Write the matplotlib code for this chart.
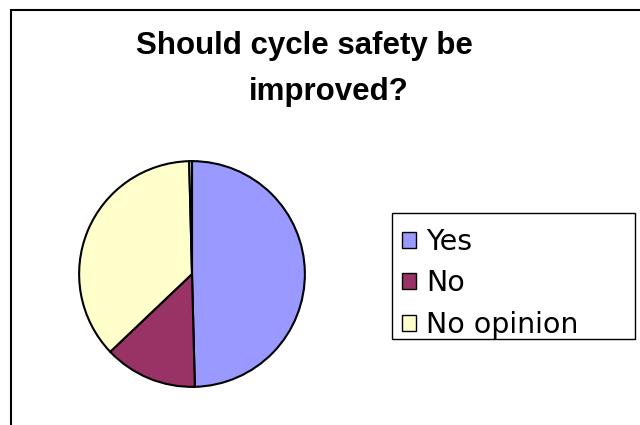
import matplotlib
matplotlib.use('Agg')
import matplotlib.pyplot as plt
from matplotlib.patches import Rectangle, Patch

# ================================================================
# Data (percent of answers)
# ================================================================
labels = ['Yes', 'No', 'No opinion']
values = [49.6, 13.3, 36.7]
gap_value = 0.4          # thin unlabelled sliver at the top of the pie
colors = ['#9999FF', '#993366', '#FFFFCC']

title_line1 = 'Should cycle safety be'
title_line2 = 'improved?'

# ================================================================
# Figure and chart-area frame
# ================================================================
fig = plt.figure(figsize=(6.4, 4.25), dpi=100)
fig.patch.set_facecolor('white')

# Excel chart border (only top and left edges fall inside the picture)
fig.add_artist(Rectangle((11 / 640, -0.1), 1.2, 1 - 10 / 425 + 0.1,
                         transform=fig.transFigure, fill=False,
                         edgecolor='black', linewidth=1.5))

# Title, two lines as in the original
fig.text(136 / 640, 1 - 46 / 425, title_line1, ha='left', va='center',
         fontsize=22.5, fontweight='bold', family='Liberation Sans')
fig.text(249 / 640, 1 - 92 / 425, title_line2, ha='left', va='center',
         fontsize=22.5, fontweight='bold', family='Liberation Sans')

# ================================================================
# Pie
# ================================================================
ax = fig.add_axes([78 / 640, 1 - 388 / 425, 228 / 640, 228 / 425])
wedges, _ = ax.pie(values + [gap_value], colors=colors + ['white'],
                   startangle=90, counterclock=False,
                   wedgeprops={'edgecolor': 'black', 'linewidth': 1.5})
ax.set_xlim(-1.01, 1.01)
ax.set_ylim(-1.01, 1.01)
ax.set_aspect('auto')
ax.axis('off')

# ================================================================
# Legend (box drawn separately, Excel style)
# ================================================================
fig.add_artist(Rectangle((392 / 640, 1 - 339 / 425), 243 / 640, 126 / 425,
                         transform=fig.transFigure, facecolor='white',
                         edgecolor='black', linewidth=1))
handles = [Patch(facecolor=c, edgecolor='black', linewidth=1) for c in colors]
leg = fig.legend(handles, labels, loc='upper left',
                 bbox_to_anchor=(392 / 640, 1 - 218 / 425),
                 frameon=False,
                 prop={'family': 'DejaVu Sans', 'size': 20.5},
                 handlelength=0.5, handleheight=0.5, handletextpad=0.35,
                 labelspacing=0.47, borderpad=0.35, borderaxespad=0)

fig.savefig('out.png', dpi=100)
